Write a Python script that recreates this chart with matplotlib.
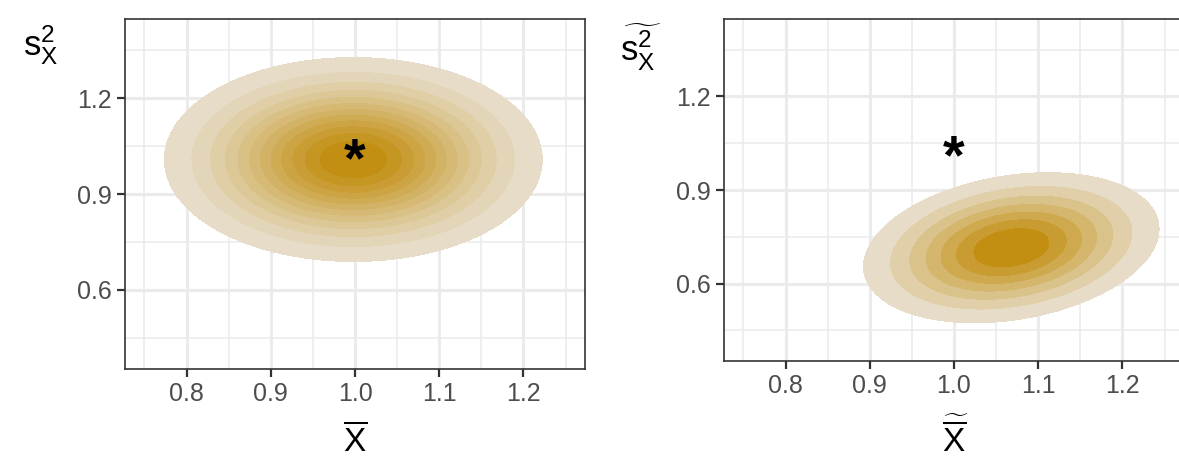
import numpy as np
import matplotlib
matplotlib.use("Agg")
import matplotlib.pyplot as plt
from matplotlib.colors import to_rgb

plt.rcParams["font.family"] = ["Liberation Sans", "DejaVu Sans"]
plt.rcParams["mathtext.fontset"] = "custom"
plt.rcParams["mathtext.rm"] = "Liberation Sans"
plt.rcParams["mathtext.it"] = "Liberation Sans"
plt.rcParams["mathtext.bf"] = "Liberation Sans:bold"

# axis settings shared by both panels
x_limits = (0.727, 1.273)
y_limits = (0.352, 1.448)
x_ticks = [0.8, 0.9, 1.0, 1.1, 1.2]
x_tick_labels = ["0.8", "0.9", "1.0", "1.1", "1.2"]
y_ticks = [0.6, 0.9, 1.2]
y_tick_labels = ["0.6", "0.9", "1.2"]
x_minor = [0.75, 0.85, 0.95, 1.05, 1.15, 1.25]
y_minor = [0.45, 0.75, 1.05, 1.35]

# true parameter (the star)
true_mean = 1.0
true_var = 1.0

# density of the estimators: centre, spread, correlation, number of bands
left_center = (0.998, 1.008)
left_spread = (0.099, 0.141)
left_rho = 0.0
left_bands = 12

right_center = (1.068, 0.715)
right_spread = (0.086, 0.118)
right_rho = 0.25
right_bands = 7

light_fill = "#E6DCC7"
dark_fill = "#C28F12"


def density_grid(center, spread, rho):
    gx, gy = np.meshgrid(np.linspace(*x_limits, 400), np.linspace(*y_limits, 400))
    u = (gx - center[0]) / spread[0]
    v = (gy - center[1]) / spread[1]
    z = np.exp(-(u ** 2 - 2 * rho * u * v + v ** 2) / (2 * (1 - rho ** 2)))
    return gx, gy, z


def band_colors(n):
    a = np.array(to_rgb(light_fill))
    b = np.array(to_rgb(dark_fill))
    return [tuple(a + (b - a) * k / (n - 1)) for k in range(n)]


def draw_panel(ax, center, spread, rho, bands):
    gx, gy, z = density_grid(center, spread, rho)
    levels = np.linspace(0, z.max(), bands + 2)[1:]
    levels[-1] = z.max() * 1.001
    ax.contourf(gx, gy, z, levels=levels, colors=band_colors(bands), zorder=2)
    ax.text(true_mean, true_var, "*", fontsize=40, fontweight="bold",
            ha="center", va="center", zorder=3)

    ax.set_xlim(*x_limits)
    ax.set_ylim(*y_limits)
    ax.set_xticks(x_ticks)
    ax.set_xticklabels(x_tick_labels)
    ax.set_yticks(y_ticks)
    ax.set_yticklabels(y_tick_labels)
    ax.set_xticks(x_minor, minor=True)
    ax.set_yticks(y_minor, minor=True)
    ax.grid(which="major", color="#EBEBEB", linewidth=2.2, zorder=0)
    ax.grid(which="minor", color="#EBEBEB", linewidth=1.1, zorder=0)
    ax.set_axisbelow(True)
    ax.tick_params(which="major", length=5.5, width=1.6, color="#333333",
                   labelsize=18, labelcolor="#4D4D4D", pad=4)
    ax.tick_params(which="minor", length=0)
    for s in ax.spines.values():
        s.set_color("#333333")
        s.set_linewidth(1.2)


fig = plt.figure(figsize=(11.79, 4.57), dpi=100)
ax1 = fig.add_axes([125 / 1179, 1 - 369 / 457, 460 / 1179, 350 / 457])
ax2 = fig.add_axes([724 / 1179, 1 - 361 / 457, 460 / 1179, 342 / 457])

draw_panel(ax1, left_center, left_spread, left_rho, left_bands)
draw_panel(ax2, right_center, right_spread, right_rho, right_bands)

fig.text(41 / 1179, 1 - 45 / 457, r"$\mathrm{s}^2_\mathrm{X}$", fontsize=25,
         ha="center", va="center")
fig.text(641 / 1179, 1 - 47 / 457, r"$\widetilde{\mathrm{s}^2_\mathrm{X}}$", fontsize=25,
         ha="center", va="center")
fig.text(355 / 1179, 1 - 441 / 457, r"$\overline{\mathrm{X}}$", fontsize=24,
         ha="center", va="center")
fig.text(955 / 1179, 1 - 438 / 457, r"$\widetilde{\overline{\mathrm{X}}}$", fontsize=24,
         ha="center", va="center")

fig.savefig("out.png", dpi=100)
